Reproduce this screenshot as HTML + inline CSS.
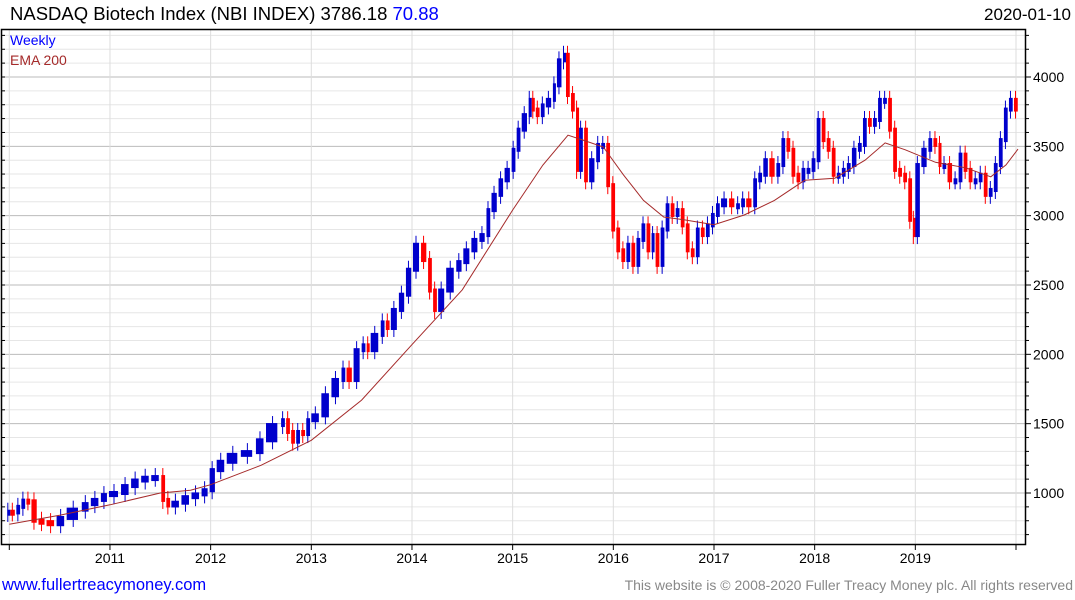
<!DOCTYPE html>
<html><head><meta charset="utf-8"><style>
body{margin:0;background:#fff;width:1075px;height:600px;overflow:hidden;font-family:"Liberation Sans","DejaVu Sans",sans-serif}
svg{display:block}
</style></head><body>
<svg id="chart" width="1075" height="600" xmlns="http://www.w3.org/2000/svg">
<g id="grid"></g>
<g id="bars"></g>
<polyline id="ema" fill="none" stroke="#a52a2a" stroke-width="1"/>
<rect x="1.5" y="29.5" width="1024" height="515" fill="none" stroke="#000" stroke-width="1.5"/>
<g id="axes"></g>
<text x="10" y="20" font-size="18.5" fill="#000">NASDAQ Biotech Index (NBI INDEX) 3786.18 <tspan fill="#0000ff">70.88</tspan></text>
<text x="1071" y="20" font-size="17" text-anchor="end" fill="#000">2020-01-10</text>
<text x="10" y="45" font-size="14" fill="#0000ff">Weekly</text>
<text x="10" y="65" font-size="14" fill="#a52a2a">EMA 200</text>
<text x="2" y="590" font-size="16.5" fill="#0000ff">www.fullertreacymoney.com</text>
<text x="1073" y="590" font-size="14" text-anchor="end" fill="#888">This website is © 2008-2020 Fuller Treacy Money plc. All rights reserved</text>
</svg>
<script>
const dates=[2010.00,2010.06,2010.11,2010.16,2010.21,2010.28,2010.36,2010.46,2010.56,2010.71,2010.80,2010.90,2010.98,2011.10,2011.20,2011.30,2011.40,2011.50,2011.55,2011.60,2011.70,2011.80,2011.90,2011.98,2012.05,2012.15,2012.29,2012.44,2012.54,2012.69,2012.74,2012.79,2012.84,2012.89,2012.94,2012.99,2013.09,2013.19,2013.29,2013.34,2013.41,2013.49,2013.54,2013.58,2013.68,2013.73,2013.78,2013.86,2013.93,2014.00,2014.08,2014.15,2014.20,2014.25,2014.33,2014.43,2014.50,2014.58,2014.66,2014.73,2014.78,2014.85,2014.91,2014.98,2015.03,2015.08,2015.15,2015.18,2015.22,2015.27,2015.32,2015.39,2015.43,2015.49,2015.52,2015.57,2015.62,2015.65,2015.70,2015.75,2015.82,2015.87,2015.92,2015.97,2016.02,2016.07,2016.12,2016.17,2016.22,2016.27,2016.32,2016.37,2016.41,2016.46,2016.51,2016.56,2016.61,2016.66,2016.71,2016.76,2016.81,2016.86,2016.91,2016.96,2017.01,2017.06,2017.14,2017.21,2017.26,2017.31,2017.38,2017.43,2017.48,2017.54,2017.61,2017.66,2017.71,2017.76,2017.81,2017.86,2017.91,2017.96,2018.01,2018.06,2018.11,2018.16,2018.21,2018.26,2018.31,2018.36,2018.42,2018.47,2018.52,2018.57,2018.62,2018.67,2018.72,2018.77,2018.82,2018.87,2018.92,2018.97,2018.99,2019.05,2019.12,2019.17,2019.22,2019.26,2019.31,2019.37,2019.42,2019.47,2019.52,2019.57,2019.62,2019.67,2019.72,2019.77,2019.82,2019.87,2019.92,2019.97,2020.02];
const closes=[865,860,900,945,940,800,790,775,820,880,920,950,985,1000,1050,1090,1110,1115,950,910,930,970,990,1020,1165,1225,1275,1295,1380,1490,1525,1440,1370,1440,1425,1525,1560,1705,1815,1890,1815,2030,2065,2030,2140,2230,2190,2320,2430,2610,2790,2680,2460,2320,2460,2610,2665,2750,2825,2860,3040,3150,3255,3330,3475,3620,3725,3835,3765,3725,3795,3835,3940,4120,4160,3870,3765,3330,3620,3255,3400,3510,3510,3220,2900,2750,2680,2790,2645,2825,2930,2750,2860,2645,2900,3075,3005,3040,2930,2750,2715,2900,2860,2930,3005,3075,3110,3075,3075,3110,3075,3255,3295,3400,3295,3365,3545,3475,3295,3255,3330,3330,3400,3690,3545,3475,3295,3295,3330,3365,3475,3510,3690,3655,3690,3835,3835,3620,3330,3295,3255,2970,2860,3365,3475,3545,3510,3365,3365,3255,3255,3440,3330,3255,3255,3295,3150,3185,3365,3545,3765,3835,3765];
const emaDates=[2010.0,2010.5,2011.0,2011.5,2011.8,2012.0,2012.5,2013.0,2013.5,2014.0,2014.5,2015.0,2015.3,2015.55,2015.7,2015.9,2016.1,2016.3,2016.5,2016.7,2017.0,2017.3,2017.6,2017.9,2018.2,2018.5,2018.7,2018.9,2019.2,2019.5,2019.75,2019.9,2020.02];
const emaValues=[775,840,915,1000,1020,1060,1200,1380,1670,2070,2465,3040,3365,3580,3545,3495,3295,3110,2990,2970,2935,3005,3110,3255,3270,3400,3525,3475,3385,3345,3280,3365,3480];
const yTicks=[1000,1500,2000,2500,3000,3500,4000];
const xTicks=[2011,2012,2013,2014,2015,2016,2017,2018,2019];

const X=t=>9.3+(t-2010)*100.67;
const Y=v=>493-(v-1000)*0.13867;
const NS='http://www.w3.org/2000/svg';
function mk(tag,attrs,parent){const e=document.createElementNS(NS,tag);for(const k in attrs)e.setAttribute(k,attrs[k]);parent.appendChild(e);return e;}
const grid=document.getElementById('grid'),axes=document.getElementById('axes'),bars=document.getElementById('bars');
for(let v=700;v<=4300;v+=100){const y=Y(v);if(y<30||y>544)continue;const major=v%500===0;
 const l=mk('line',{x1:2,x2:1025,y1:y,y2:y,stroke:major?'#bbb':'#e6e6e6','stroke-width':1},grid);
 
 
 const tk=mk('line',{x1:1025,x2:major?1031:1029,y1:y,y2:y,stroke:'#000'},axes);
 
 
 const tl=mk('line',{x1:2,x2:5,y1:y,y2:y,stroke:'#000'},axes);
 
 }
yTicks.forEach(v=>{const t=mk('text',{x:1033,y:Y(v)+5,'font-size':14,fill:'#000'},axes);t.textContent=v;
 
 });
[2010].concat(xTicks,[2020]).forEach(yr=>{const x=X(yr);
 const g=mk('line',{x1:x,x2:x,y1:30,y2:544,stroke:'#ddd'},grid);
 
 
 const tk=mk('line',{x1:x,x2:x,y1:544,y2:550,stroke:'#000'},axes);
 
 });
xTicks.forEach(yr=>{const t=mk('text',{x:X(yr),y:563,'font-size':14,'text-anchor':'middle',fill:'#000'},axes);t.textContent=yr;
 
 });
for(let i=0;i<closes.length;i++){
 const prev=i?closes[i-1]:closes[0]*0.99;const c=closes[i];
 const x0=i?X(dates[i-1]):X(dates[i])-3;const x1=X(dates[i]);
 const up=c>=prev;const col=up?'#0000cc':'#ff0000';
 const top=Y(Math.max(prev,c)),bot=Y(Math.min(prev,c));
 const r=mk('rect',{x:x0+1,y:top-2,width:Math.max(3,(x1-x0)*0.75),height:Math.max(2,bot-top)+4,fill:col},bars);
 
 
 const w=mk('line',{x1:(x0+x1)/2,x2:(x0+x1)/2,y1:top-9,y2:bot+9,stroke:col,'stroke-width':1},bars);
 
 
}
document.getElementById('ema').setAttribute('points',emaDates.map((d,i)=>X(d).toFixed(1)+','+Y(emaValues[i]).toFixed(1)).join(' '));
</script>
</body></html>
